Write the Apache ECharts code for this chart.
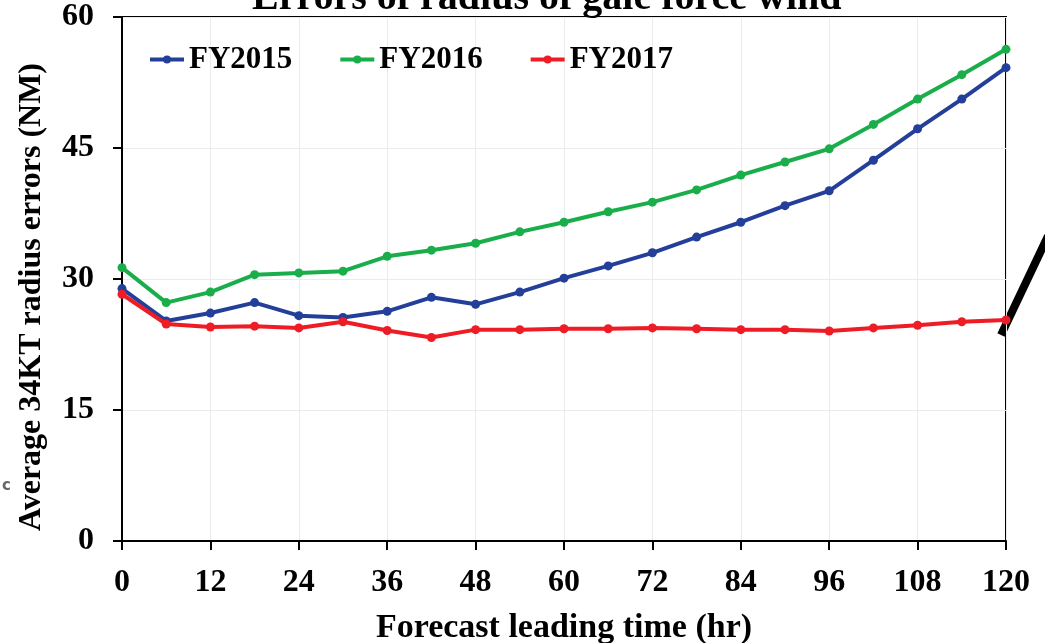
<!DOCTYPE html>
<html>
<head>
<meta charset="utf-8">
<script src="https://cdn.jsdelivr.net/npm/echarts@6/dist/echarts.min.js"></script>
<style>
  html, body { margin: 0; padding: 0; background: #fff; }
  #chart { width: 1045px; height: 643px; }
</style>
</head>
<body>
<div id="chart"></div>
<script>
// Forecast lead times (hours) and the mean 34-kt wind radius errors (NM)
const leadHours = [0, 6, 12, 18, 24, 30, 36, 42, 48, 54, 60, 66, 72, 78, 84, 90, 96, 102, 108, 114, 120];
const fy2015 = [28.9, 25.2, 26.1, 27.3, 25.8, 25.6, 26.3, 27.9, 27.1, 28.5, 30.1, 31.5, 33.0, 34.8, 36.5, 38.4, 40.1, 43.6, 47.2, 50.6, 54.2];
const fy2016 = [31.3, 27.3, 28.5, 30.5, 30.7, 30.9, 32.6, 33.3, 34.1, 35.4, 36.5, 37.7, 38.8, 40.2, 41.9, 43.4, 44.9, 47.7, 50.6, 53.4, 56.3];
const fy2017 = [28.25, 24.85, 24.5, 24.6, 24.4, 25.1, 24.1, 23.3, 24.2, 24.2, 24.3, 24.3, 24.4, 24.3, 24.2, 24.2, 24.05, 24.4, 24.7, 25.1, 25.3];
const seriesNames = ['FY2015', 'FY2016', 'FY2017'];
const seriesColors = ['#233f99', '#1aae4b', '#ee1c25'];

const serif = '"Liberation Serif", "Times New Roman", serif';

function pairs(values) {
  return leadHours.map((h, i) => [h, values[i]]);
}

const chart = echarts.init(document.getElementById('chart'));
chart.setOption({
  backgroundColor: '#fff',
  animation: false,
  title: {
    text: 'Errors of radius of gale force wind',
    left: 247,
    top: -26,
    textStyle: { fontFamily: serif, fontWeight: 'bold', fontSize: 40, color: '#000' }
  },
  grid: {
    left: 122, right: 39, top: 17, bottom: 102,
    outerBoundsMode: 'none', containLabel: false,
    show: true, borderColor: '#000', borderWidth: 2, backgroundColor: 'transparent'
  },
  legend: {
    left: 143, top: 39,
    itemWidth: 34, itemHeight: 10, itemGap: 46,
    lineStyle: { width: 4 },
    textStyle: { fontFamily: serif, fontWeight: 'bold', fontSize: 31, color: '#000' },
    data: seriesNames
  },
  xAxis: {
    type: 'value', min: 0, max: 120, interval: 12,
    name: 'Forecast leading time (hr)',
    nameLocation: 'middle', nameGap: 70,
    nameTextStyle: { fontFamily: serif, fontWeight: 'bold', fontSize: 34, color: '#000' },
    axisLine: { lineStyle: { color: '#000', width: 2 } },
    axisTick: { show: true, length: 9, lineStyle: { color: '#000', width: 2 } },
    axisLabel: { margin: 26, fontFamily: serif, fontWeight: 'bold', fontSize: 32, color: '#000' },
    splitLine: { show: true, lineStyle: { color: '#ebebeb', width: 1 } }
  },
  yAxis: {
    type: 'value', min: 0, max: 60, interval: 15,
    name: 'Average 34KT radius errors (NM)',
    nameLocation: 'middle', nameGap: 74,
    nameTextStyle: { fontFamily: serif, fontWeight: 'bold', fontSize: 32, color: '#000', padding: [0, 36, 0, 0] },
    axisLine: { lineStyle: { color: '#000', width: 2 } },
    axisTick: { show: true, length: 9, lineStyle: { color: '#000', width: 2 } },
    axisLabel: { margin: 28, fontFamily: serif, fontWeight: 'bold', fontSize: 32, color: '#000' },
    splitLine: { show: true, lineStyle: { color: '#ebebeb', width: 1 } }
  },
  series: [fy2015, fy2016, fy2017].map((vals, i) => ({
    name: seriesNames[i],
    type: 'line',
    data: pairs(vals),
    symbol: 'circle',
    symbolSize: 9,
    color: seriesColors[i],
    lineStyle: { width: 4, color: seriesColors[i] },
    itemStyle: { color: seriesColors[i] },
    z: 3 + i
  })),
  graphic: [
    {
      type: 'text', left: 2, top: 479,
      style: { text: 'c', fill: '#666', font: 'bold 15px "DejaVu Sans", sans-serif' }
    },
    {
      type: 'line', silent: true,
      shape: { x1: 1001, y1: 335, x2: 1048, y2: 236 },
      style: { stroke: '#000', lineWidth: 8 }
    }
  ]
});
</script>
</body>
</html>
